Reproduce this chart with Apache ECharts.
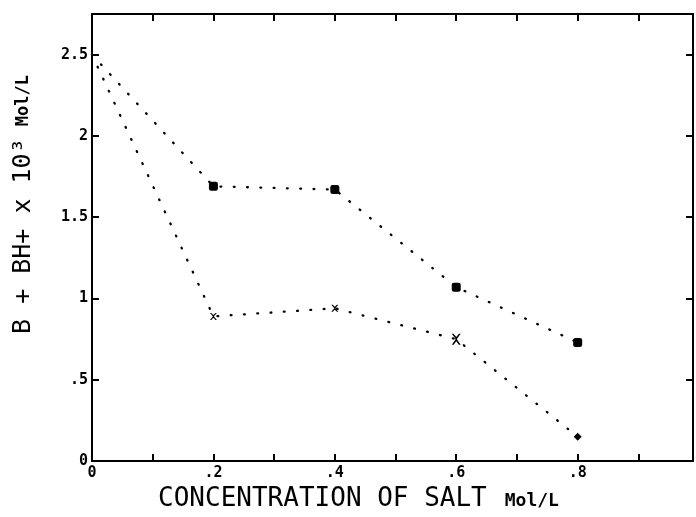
<!DOCTYPE html>
<html>
<head>
<meta charset="utf-8">
<script src="https://cdn.jsdelivr.net/npm/echarts@6/dist/echarts.min.js"></script>
<style>
  html, body { margin: 0; padding: 0; background: #ffffff; }
  #chart { width: 696px; height: 517px; }
</style>
</head>
<body>
<div id="chart"></div>
<script>
// ---- data ----
var xUpper = [0, 0.2, 0.4, 0.6, 0.8];
var yUpper = [2.5, 1.69, 1.67, 1.07, 0.73];
var xLower = [0, 0.2, 0.4, 0.6, 0.8];
var yLower = [2.5, 0.89, 0.94, 0.75, 0.15];
var xTickLabels = ['0', '', '.2', '', '.4', '', '.6', '', '.8', ''];
var yTickLabels = ['0', '.5', '1', '1.5', '2', '2.5'];
var xTitle = 'CONCENTRATION OF SALT';
var yTitle = 'B + BH+ x 10\u00B3';
var unitText = 'Mol/L';

var chart = echarts.init(document.getElementById('chart'), null, { renderer: 'canvas' });

var xPath = 'path://M0,0 L2,0 L5,3 L8,0 L10,0 L6,4.5 L6,5.5 L10,10 L8,10 L5,7 L2,10 L0,10 L4,5.5 L4,4.5 Z';

function pairs(xs, ys, firstNoSymbol, extra) {
  return xs.map(function (x, i) {
    var item = { value: [x, ys[i]] };
    if (i === 0 && firstNoSymbol) item.symbol = 'none';
    if (extra && extra[i]) Object.assign(item, extra[i]);
    return item;
  });
}

var dotted = { color: '#000', width: 2.3, type: [0.8, 12.5], cap: 'round' };
var axisCommon = {
  type: 'value',
  axisLine: { show: true, onZero: false, lineStyle: { color: '#000', width: 2 } },
  axisTick: { show: true, inside: true, length: 7, lineStyle: { color: '#000', width: 2 } },
  splitLine: { show: false }
};
var monoBold = { fontFamily: 'DejaVu Sans Mono', fontWeight: 'bold', fontSize: 15, color: '#000' };

var option = {
  backgroundColor: '#ffffff',
  animation: false,
  grid: { left: 92, top: 14, width: 601, height: 458, containLabel: false },
  xAxis: [
    Object.assign({}, axisCommon, {
      position: 'bottom', min: 0, max: 0.99, interval: 0.1,
      axisLabel: Object.assign({}, monoBold, {
        margin: 5,
        formatter: function (v) { var t = xTickLabels[Math.round(v / 0.1)]; return t === undefined ? '' : t; }
      }),
      name: '{a|' + xTitle + '}{m|' + unitText + '}',
      nameLocation: 'middle',
      nameGap: 21,
      nameTextStyle: {
        padding: [0, 68, 0, 0],
        rich: {
          a: { fontFamily: 'DejaVu Sans Mono', fontSize: 26, color: '#000', fontWeight: 'normal' },
          m: { fontFamily: 'DejaVu Sans Mono', fontSize: 18, fontWeight: 'bold', color: '#000', padding: [5, 0, 0, 18] }
        }
      }
    }),
    Object.assign({}, axisCommon, {
      position: 'top', min: 0, max: 0.99, interval: 0.1,
      axisLabel: { show: false }
    })
  ],
  yAxis: [
    Object.assign({}, axisCommon, {
      position: 'left', min: 0, max: 2.75, interval: 0.5,
      axisLabel: Object.assign({}, monoBold, {
        margin: 4,
        formatter: function (v) { var t = yTickLabels[Math.round(v / 0.5)]; return t === undefined ? '' : t; }
      }),
      name: '{a|' + yTitle + '}{m|' + unitText + '}',
      nameLocation: 'middle',
      nameRotate: 90,
      nameGap: 56,
      nameTextStyle: {
        padding: [0, 0, 0, 66],
        rich: {
          a: { fontFamily: 'DejaVu Sans Mono', fontSize: 25, color: '#000' },
          m: { fontFamily: 'DejaVu Sans Mono', fontSize: 17, fontWeight: 'bold', color: '#000', padding: [0, 0, 0, 12] }
        }
      }
    }),
    Object.assign({}, axisCommon, {
      position: 'right', min: 0, max: 2.75, interval: 0.5,
      axisLabel: { show: false }
    })
  ],
  series: [
    {
      type: 'line',
      xAxisIndex: 0, yAxisIndex: 0,
      data: pairs(xUpper, yUpper, true),
      symbol: 'roundRect',
      symbolSize: 9,
      itemStyle: { color: '#000' },
      lineStyle: dotted,
      z: 3
    },
    {
      type: 'line',
      xAxisIndex: 0, yAxisIndex: 0,
      data: pairs(xLower, yLower, true, { 3: { symbolSize: [9, 11] }, 4: { symbol: 'diamond', symbolSize: 8 } }),
      symbol: xPath,
      symbolSize: 7,
      itemStyle: { color: '#000' },
      lineStyle: dotted,
      z: 3
    }
  ]
};
chart.setOption(option);
</script>
</body>
</html>
